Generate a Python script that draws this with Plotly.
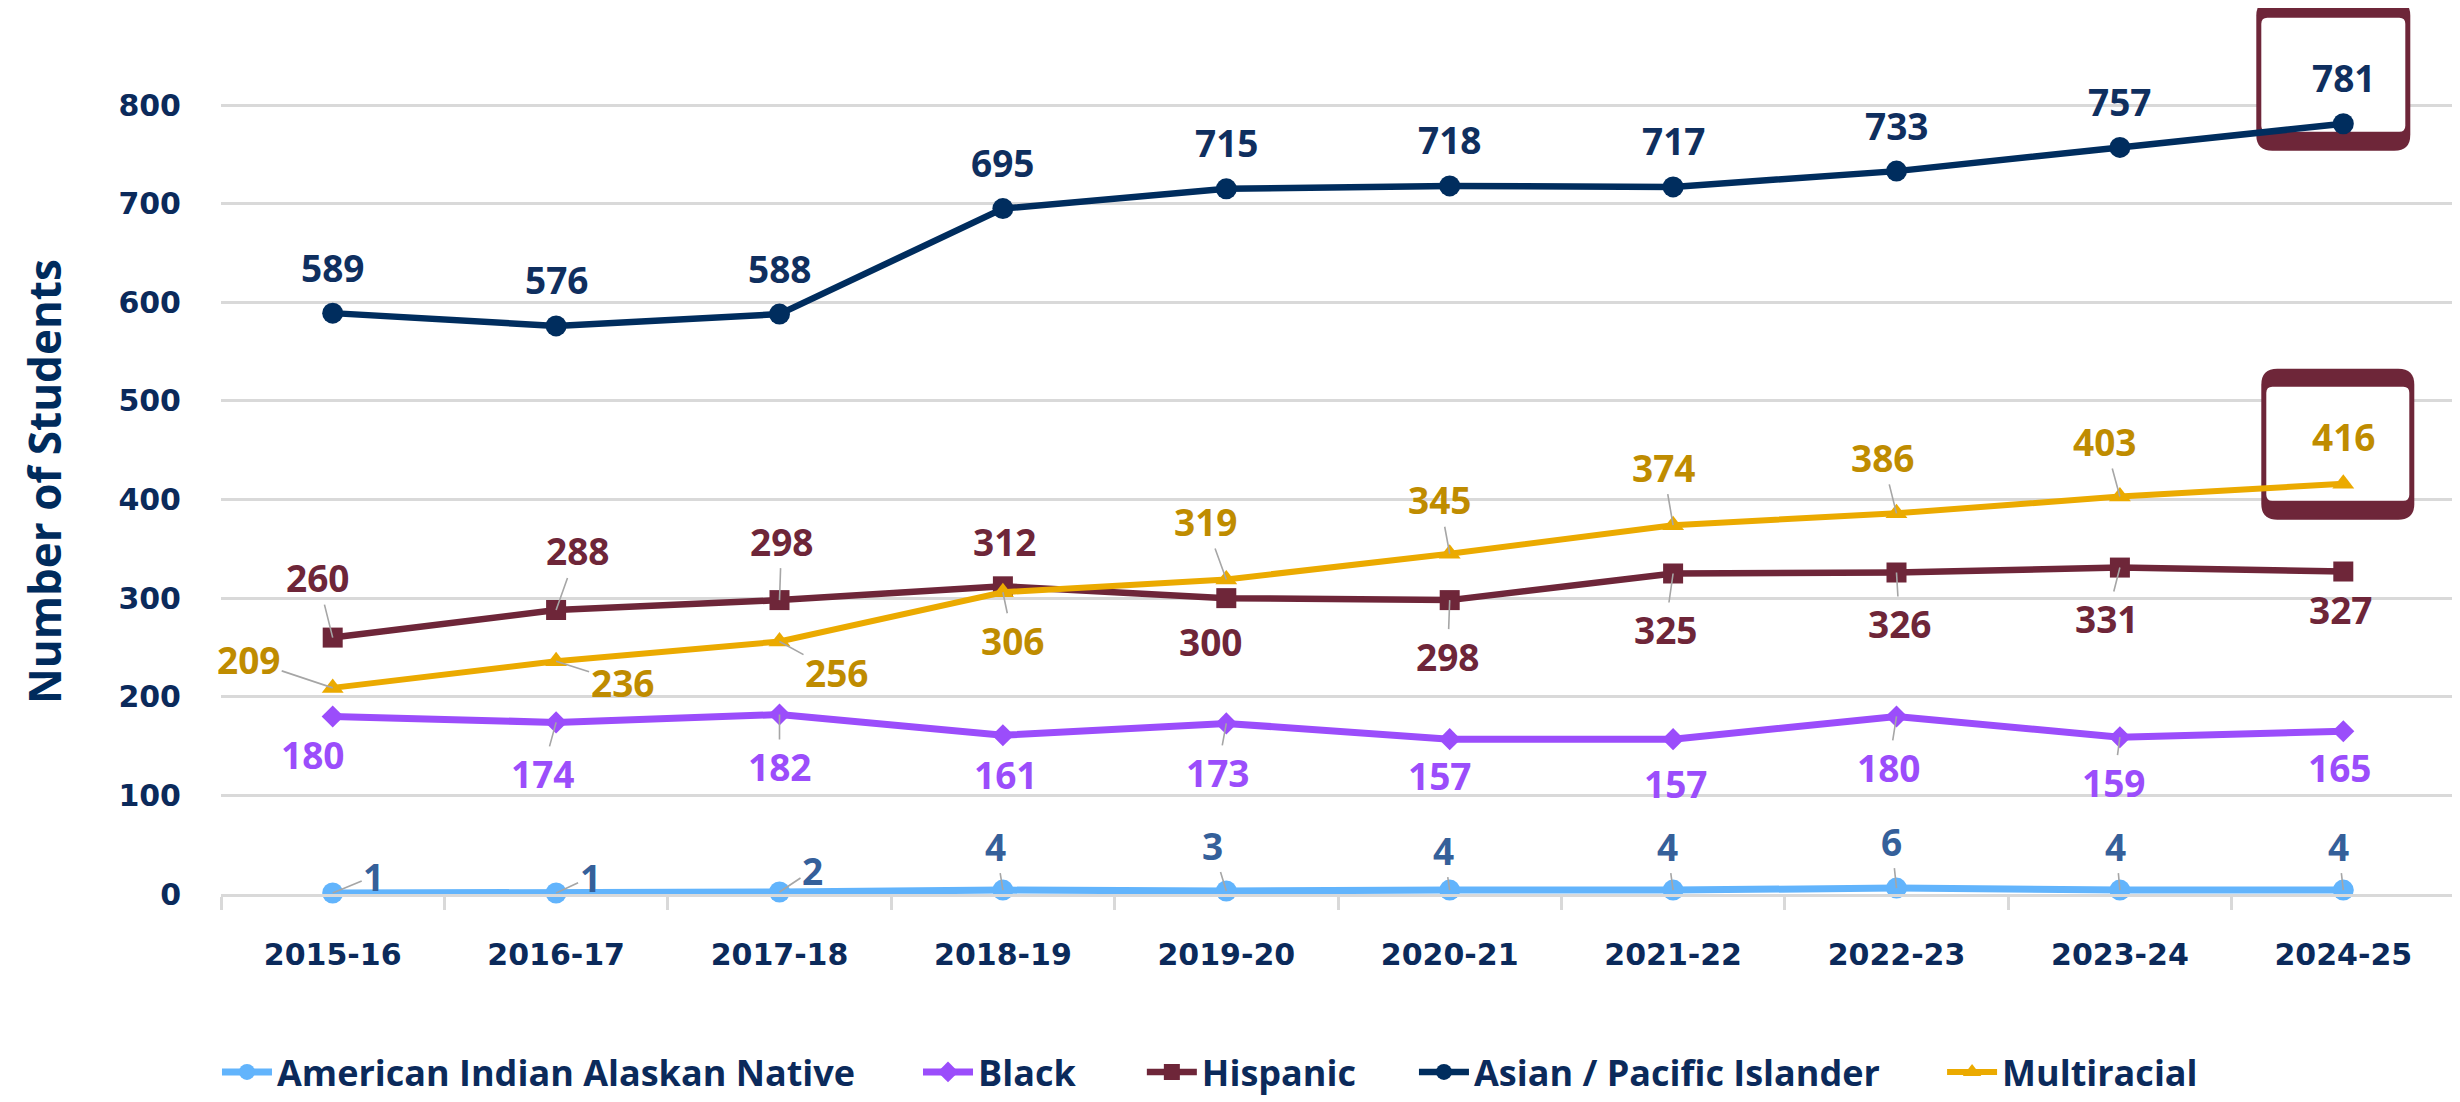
import plotly.graph_objects as go

# ---------------- data ----------------
years = ["2015-16", "2016-17", "2017-18", "2018-19", "2019-20",
         "2020-21", "2021-22", "2022-23", "2023-24", "2024-25"]
american_indian = [1, 1, 2, 4, 3, 4, 4, 6, 4, 4]
black = [180, 174, 182, 161, 173, 157, 157, 180, 159, 165]
hispanic = [260, 288, 298, 312, 300, 298, 325, 326, 331, 327]
asian = [589, 576, 588, 695, 715, 718, 717, 733, 757, 781]
multiracial = [209, 236, 256, 306, 319, 345, 374, 386, 403, 416]
y_ticks = [0, 100, 200, 300, 400, 500, 600, 700, 800]

# ---------------- label placement (pixel offsets dx, dy, leader line) ----------------
off_ai = [(41, -17, 1), (34, -16, 1), (33, -22, 1), (-7, -44, 1), (-14, -46, 1),
          (-6, -40, 1), (-6, -44, 1), (-5, -47, 1), (-4, -44, 1), (-5, -44, 1)]
off_bl = [(-20, 38, 0), (-14, 51, 1), (0, 52, 1), (3, 39, 0), (-9, 49, 1),
          (-10, 36, 0), (2, 44, 0), (-8, 51, 1), (-6, 45, 1), (-4, 36, 0)]
off_hi = [(-15, -60, 1), (21, -59, 1), (2, -59, 1), (2, -45, 0), (-16, 43, 0),
          (-2, 56, 1), (-8, 56, 1), (3, 51, 1), (-13, 51, 1), (-3, 38, 0)]
off_as = [(0, -46, 0)] * 10
off_mu = [(-84, -28, 1), (66, 21, 1), (57, 31, 1), (10, 48, 1), (-21, -58, 1),
          (-10, -54, 1), (-10, -58, 1), (-14, -56, 1), (-15, -55, 1), (0, -47, 0)]

NAVY = "#0B2A5B"
GRID = "#d9d9d9"

# legend box left edges (paper fraction) for each series
legend_x = [-0.0018, 0.3120, 0.4122, 0.5340, 0.7704]

series = [
    dict(name="American Indian Alaskan Native", y=american_indian, color="#62B4FC",
         label_color="#35609A", symbol="circle", size=21, width=7, offs=off_ai),
    dict(name="Black", y=black, color="#9B4DFB", label_color="#9B4DFB",
         symbol="diamond", size=17, width=7, offs=off_bl),
    dict(name="Hispanic", y=hispanic, color="#6E2639", label_color="#6E2639",
         symbol="square", size=20, width=6.5, offs=off_hi),
    dict(name="Asian / Pacific Islander", y=asian, color="#002D5E", label_color="#0F2F5F",
         symbol="circle", size=21, width=6.5, offs=off_as),
    dict(name="Multiracial", y=multiracial, color="#EBAA00", label_color="#BF8C00",
         symbol="triangle-up", size=19, width=6, offs=off_mu),
]

fig = go.Figure()
annotations = []
legend_layouts = {}
for k, s in enumerate(series):
    lg = "legend" if k == 0 else f"legend{k + 1}"
    fig.add_trace(go.Scatter(
        x=years, y=s["y"], name=s["name"], mode="lines+markers",
        line=dict(color=s["color"], width=s["width"]),
        marker=dict(symbol=s["symbol"], size=s["size"], color=s["color"]),
        cliponaxis=False, legend=lg,
    ))
    legend_layouts[lg] = dict(
        orientation="h", x=legend_x[k], y=-0.2009, xanchor="left", yanchor="middle",
        font=dict(family="Open Sans", size=36, color=NAVY, weight=700),
        itemwidth=50, bgcolor="rgba(0,0,0,0)")
    for xv, yv, (dx, dy, lead) in zip(years, s["y"], s["offs"]):
        annotations.append(dict(
            x=xv, y=yv, xref="x", yref="y", text=str(yv),
            showarrow=True, ax=dx, ay=dy, axref="pixel", ayref="pixel",
            arrowhead=0, arrowwidth=1.6,
            arrowcolor="#A6A6A6" if lead else "rgba(0,0,0,0)",
            font=dict(family="Open Sans", size=37, color=s["label_color"], weight=700),
        ))

# y-axis title
annotations.append(dict(
    text="Number of Students", textangle=-90, xref="paper", yref="paper",
    x=-0.0790, y=0.4656, xanchor="center", yanchor="middle", showarrow=False,
    font=dict(family="Open Sans", size=44, color="#002B5C", weight=700),
))


def rounded_rect(x0, x1, y0, y1, r):
    return (f"M{x0 + r},{y0} L{x1 - r},{y0} Q{x1},{y0} {x1},{y0 + r} "
            f"L{x1},{y1 - r} Q{x1},{y1} {x1 - r},{y1} L{x0 + r},{y1} "
            f"Q{x0},{y1} {x0},{y1 - r} L{x0},{y0 + r} Q{x0},{y0} {x0 + r},{y0} Z")


BOX = "#6E2639"
shapes = []
for anchor_y, outer, inner in [
    (asian[-1], (-87, 67, -27, 124), (-82, 62, -8, 106)),
    (multiracial[-1], (-82, 71, -36, 115), (-77, 66, -17, 97)),
]:
    shapes.append(dict(type="path", xref="x", yref="y", xsizemode="pixel", ysizemode="pixel",
                       xanchor=years[-1], yanchor=anchor_y,
                       path=rounded_rect(*outer, 16), fillcolor=BOX, line=dict(width=0),
                       layer="between"))
    shapes.append(dict(type="path", xref="x", yref="y", xsizemode="pixel", ysizemode="pixel",
                       xanchor=years[-1], yanchor=anchor_y,
                       path=rounded_rect(*inner, 6), fillcolor="white", line=dict(width=0),
                       layer="between"))

fig.update_layout(
    width=2460, height=1102,
    margin=dict(l=213, r=13, t=0, b=216, pad=0),
    paper_bgcolor="white", plot_bgcolor="white",
    showlegend=True,
    annotations=annotations,
    shapes=shapes,
    xaxis=dict(type="category", range=[-0.5, 9.5], tickson="boundaries",
               ticks="outside", ticklen=13, tickwidth=2.5, tickcolor=GRID,
               showline=True, linecolor=GRID, linewidth=2.5, showgrid=False,
               tickfont=dict(family="DejaVu Sans", size=30, color=NAVY, weight=700),
               ticklabelstandoff=32, fixedrange=True),
    yaxis=dict(range=[0, 898.4], tickmode="array", tickvals=y_ticks,
               showgrid=True, gridcolor=GRID, gridwidth=2.5, zeroline=False,
               showline=False, ticks="",
               tickfont=dict(family="DejaVu Sans", size=30, color=NAVY, weight=700),
               ticklabelstandoff=39, fixedrange=True),
    **legend_layouts,
)

fig.write_html("out.html")
